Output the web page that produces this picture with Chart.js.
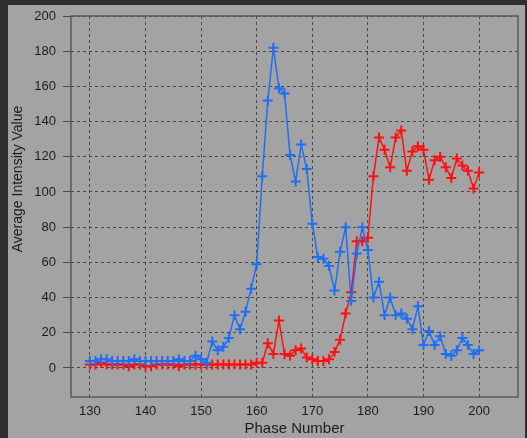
<!DOCTYPE html>
<html>
<head>
<meta charset="utf-8">
<script src="https://cdn.jsdelivr.net/npm/chart.js@4.4.1/dist/chart.umd.min.js"></script>
<style>
    html, body {
        margin: 0;
        padding: 0;
        width: 527px;
        height: 438px;
        background: #2f2f2f;
        overflow: hidden;
    }
    #wrap {
        position: absolute;
        left: 8px;
        top: 5px;
        width: 517px;
        height: 433px;
    }
</style>
</head>
<body>
<div id="wrap"><canvas id="chart"></canvas></div>
<script>
// Phase numbers on the x axis
const phases = [];
for (let p = 130; p <= 200; p++) {
    phases.push(p);
}

const blueValues = [
    4, 4, 5, 5, 4, 4, 4, 4, 5, 4,
    4, 4, 4, 4, 4, 4, 5, 4, 4, 7,
    5, 3, 15, 10, 12, 17, 30, 22, 32, 45,
    59, 109, 152, 182, 159, 156, 121, 106, 127, 113,
    82, 63, 62, 58, 44, 66, 80, 38, 65, 80,
    67, 40, 49, 30, 40, 30, 31, 28, 22, 35,
    13, 21, 13, 18, 8, 7, 10, 17, 13, 8,
    10,
];

const redValues = [
    2, 2, 3, 2, 2, 2, 2, 1, 2, 2,
    1, 1, 2, 2, 2, 2, 1, 2, 2, 2,
    2, 2, 2, 2, 2, 2, 2, 2, 2, 2,
    3, 3, 14, 8, 27, 8, 7, 10, 11, 6,
    5, 4, 4, 5, 9, 16, 31, 43, 72, 72,
    74, 109, 131, 124, 114, 131, 135, 112, 123, 126,
    124, 107, 118, 120, 114, 108, 119, 115, 112, 102,
    111,
];

const xTicks = [130, 140, 150, 160, 170, 180, 190, 200];
const yTicks = [0, 20, 40, 60, 80, 100, 120, 140, 160, 180, 200];

const yTitle = 'Average Intensity Value';

const toPoints = function(values) {
    'use strict';
    return values.map((v, i) => ({x: phases[i], y: v}));
};

const fontFamily = '\'Liberation Sans\', Arial, sans-serif';

// gray backdrop, frame round the plot area and the y title
const pluginFrame = {
    id: 'frame',
    beforeDraw: function(chart) {
        const ctx = chart.ctx;
        ctx.save();
        ctx.fillStyle = '#a3a3a3';
        ctx.fillRect(0, 0, chart.width, chart.height);
        ctx.restore();
    },
    afterDatasetsDraw: function(chart) {
        const a = chart.chartArea;
        const ctx = chart.ctx;
        ctx.save();
        ctx.strokeStyle = '#5a5a5a';
        ctx.lineWidth = 1.5;
        ctx.strokeRect(a.left, a.top, a.right - a.left, a.bottom - a.top);
        // y title sits a bit above the middle of the axis
        ctx.translate(10, 174);
        ctx.rotate(-Math.PI / 2);
        ctx.fillStyle = '#1c1c1c';
        ctx.font = '14px ' + fontFamily;
        ctx.textAlign = 'center';
        ctx.textBaseline = 'middle';
        ctx.fillText(yTitle, 0, 0);
        ctx.restore();
    },
};

const seriesStyle = function(color) {
    return {
        borderColor: color,
        backgroundColor: color,
        borderWidth: 1.5,
        pointStyle: 'cross',
        pointRadius: 5,
        pointBorderWidth: 2,
        pointHoverRadius: 5,
        tension: 0,
    };
};

const tickFont = {family: fontFamily, size: 13};

new Chart(document.getElementById('chart'), {
    type: 'line',
    data: {
        datasets: [
            Object.assign({label: 'Blue', data: toPoints(blueValues)},
                seriesStyle('#1f6ff5')),
            Object.assign({label: 'Red', data: toPoints(redValues)},
                seriesStyle('#ff1010')),
        ],
    },
    options: {
        responsive: true,
        maintainAspectRatio: false,
        animation: false,
        layout: {padding: {top: 0, right: 6, left: 0, bottom: 0}},
        plugins: {
            legend: {display: false},
            tooltip: {enabled: false},
        },
        scales: {
            x: {
                type: 'linear',
                min: 126.6,
                max: 207,
                afterBuildTicks: function(axis) {
                    axis.ticks = xTicks.map((v) => ({value: v}));
                },
                afterFit: function(axis) {
                    axis.height = 41;
                },
                grid: {color: '#4a4a4a', lineWidth: 1, drawTicks: false},
                border: {display: false, dash: [3, 3]},
                ticks: {color: '#1c1c1c', font: tickFont, padding: 7,
                    maxRotation: 0},
                title: {
                    display: true,
                    text: 'Phase Number',
                    color: '#1c1c1c',
                    font: {family: fontFamily, size: 15},
                    padding: {top: 0, bottom: 0},
                },
            },
            y: {
                min: -16.5,
                max: 200,
                afterBuildTicks: function(axis) {
                    axis.ticks = yTicks.map((v) => ({value: v}));
                },
                afterFit: function(axis) {
                    axis.width = 63;
                    // plot top 11px below the canvas edge
                    axis.paddingTop = 11;
                    axis.paddingBottom = 0;
                },
                grid: {color: '#4a4a4a', lineWidth: 1, tickLength: 8},
                border: {display: false, dash: [3, 3]},
                ticks: {color: '#1c1c1c', font: tickFont, padding: 7},
            },
        },
    },
    plugins: [pluginFrame],
});
</script>
</body>
</html>
